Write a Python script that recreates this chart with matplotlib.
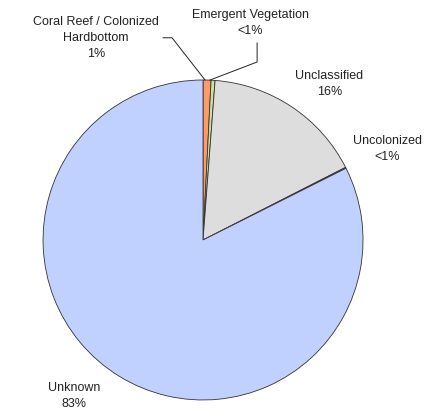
import matplotlib
matplotlib.use("Agg")
import matplotlib.pyplot as plt

# 数据
categories = ["Coral Reef / Colonized\nHardbottom", "Emergent Vegetation",
              "Unclassified", "Uncolonized", "Unknown"]
values = [0.8, 0.4, 16.3, 0.1, 82.4]
pct_labels = ["1%", "<1%", "16%", "<1%", "83%"]
colors = ["#FF9966", "#CCE0A0", "#DDDDDD", "#99CCFF", "#C0D0FF"]

plt.rcParams["font.family"] = ["Liberation Sans", "DejaVu Sans"]

fig = plt.figure(figsize=(4.28, 4.19), dpi=100)
ax = fig.add_axes([0, 0, 1, 1])

ax.pie(values, colors=colors, startangle=90, counterclock=False,
       radius=1.0, center=(0, 0),
       wedgeprops=dict(edgecolor="#333333", linewidth=0.6))

ax.set_xlim(-1.269, 1.406)
ax.set_ylim(-1.119, 1.5)
ax.set_aspect("equal")
ax.axis("off")

# 标签位置 (数据坐标, 半径=1)
label_pos = [(-0.67, 1.262), (0.294, 1.356), (0.79, 0.975),
             (1.15, 0.569), (-0.806, -0.975)]
for name, pct, (x, y) in zip(categories, pct_labels, label_pos):
    ax.text(x, y, f"{name}\n{pct}", ha="center", va="center",
            fontsize=9, color="#222222", linespacing=1.45)

# 引导线
ax.plot([-0.25, -0.194, 0.0125], [1.264, 1.264, 1.0], color="#222222", lw=0.7)
ax.plot([0.338, 0.338, 0.044], [1.231, 1.1125, 1.0], color="#222222", lw=0.7)

fig.savefig("out.png", dpi=100)
